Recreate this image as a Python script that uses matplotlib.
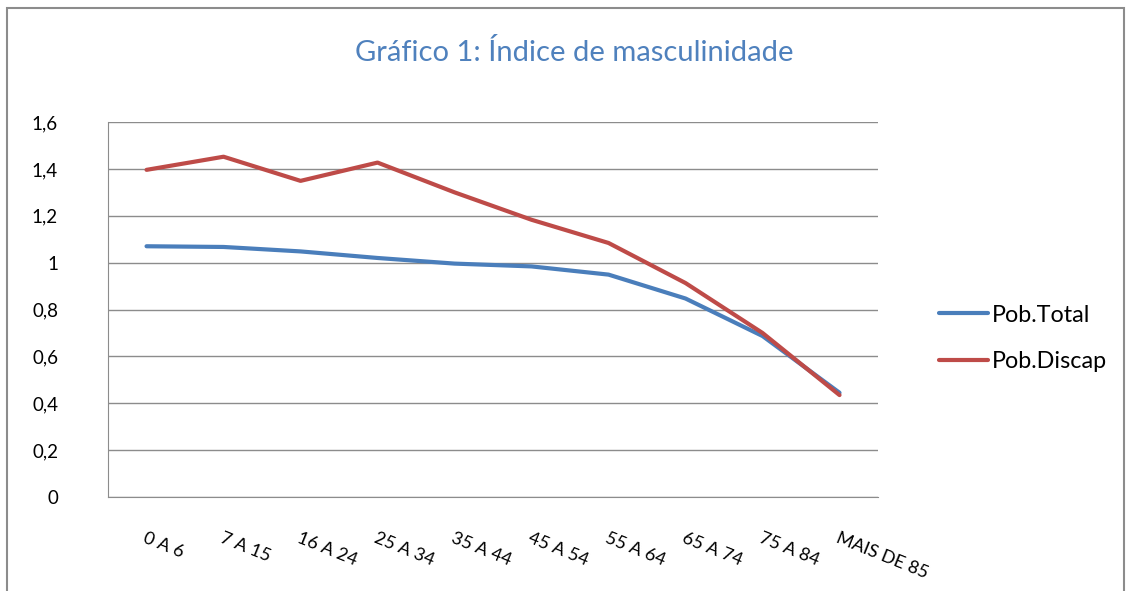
import matplotlib
matplotlib.use("Agg")
import matplotlib.pyplot as plt
from matplotlib.patches import Rectangle

plt.rcParams['font.family'] = ['Lato', 'DejaVu Sans']

# data
categorias = ['0 A 6', '7 A 15', '16 A 24', '25 A 34', '35 A 44', '45 A 54',
              '55 A 64', '65 A 74', '75 A 84', 'MAIS DE 85']
pob_total = [1.07, 1.067, 1.048, 1.02, 0.996, 0.984, 0.949, 0.847, 0.687, 0.445]
pob_discap = [1.396, 1.452, 1.349, 1.427, 1.30, 1.183, 1.084, 0.913, 0.70, 0.435]
yticks = [0, 0.2, 0.4, 0.6, 0.8, 1.0, 1.2, 1.4, 1.6]
ylabels = ['0', '0,2', '0,4', '0,6', '0,8', '1', '1,2', '1,4', '1,6']

fig = plt.figure(figsize=(11.29, 5.91), dpi=100)
# outer chart border
fig.patches.append(Rectangle((0.006, -0.02), 0.99, 1.007, transform=fig.transFigure,
                             fill=False, edgecolor='#8c8c8c', linewidth=1.5))

ax = fig.add_axes([0.0957, 0.159, 0.682, 0.6345])
x = list(range(len(categorias)))
ax.plot(x, pob_total, color='#4a7ebb', lw=3, label='Pob.Total', solid_capstyle='round')
ax.plot(x, pob_discap, color='#be4b48', lw=3, label='Pob.Discap', solid_capstyle='round')

ax.set_xlim(-0.5, len(categorias) - 0.5)
ax.set_ylim(0, 1.6)
ax.set_yticks(yticks)
ax.set_yticklabels(ylabels, fontsize=13.5)
ax.yaxis.grid(True, color='#8c8c8c', lw=1)
ax.set_axisbelow(True)
ax.tick_params(axis='both', length=0)
ax.tick_params(axis='y', pad=36)

ax.set_xticks(x)
ax.set_xticklabels(categorias, fontsize=13, rotation=-22, ha='left',
                   rotation_mode='anchor', va='top')
ax.tick_params(axis='x', pad=24)

for s in ['top', 'right']:
    ax.spines[s].set_visible(False)
ax.spines['left'].set_color('#8c8c8c')
ax.spines['bottom'].set_color('#8c8c8c')

fig.text(0.509, 0.912, 'Gráfico 1: Índice de masculinidade', ha='center', va='center',
         fontsize=21, color='#4f81bd')

ax.legend(loc='center left', bbox_to_anchor=(1.052, 0.423), frameon=False, fontsize=16.8,
          handlelength=2.1, handletextpad=0.15, labelspacing=1.1)

fig.savefig('out.png', dpi=100)
